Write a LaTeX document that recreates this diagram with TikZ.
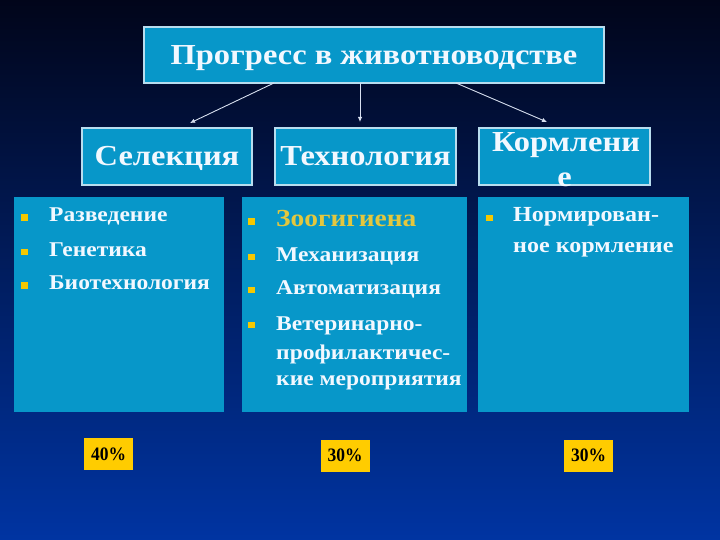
\documentclass[tikz,border=0pt]{standalone}
\usepackage{fontspec}
\setmainfont{Liberation Serif}
\newfontfamily\wf[FakeStretch=1.12]{Liberation Serif}
\newfontfamily\nf[FakeStretch=0.92]{Liberation Serif}
\usetikzlibrary{arrows.meta}
\definecolor{bgtop}{HTML}{01051A}
\definecolor{bgmid}{HTML}{082374}
\definecolor{bgbot}{HTML}{0034A2}
\definecolor{boxfill}{HTML}{0797C9}
\definecolor{boxline}{HTML}{B8DDEE}
\definecolor{txt}{HTML}{F2F8FF}
\definecolor{gold}{HTML}{E3C73E}
\definecolor{bul}{HTML}{F5C800}
\definecolor{pfill}{HTML}{FFCC00}
\definecolor{arrc}{HTML}{D8E0F0}
\tikzset{
  hbox/.style={draw=boxline, line width=1.1pt, fill=boxfill, inner sep=0pt},
  bigbox/.style={fill=boxfill, inner sep=0pt},
  htext/.style={anchor=base, text=txt, inner sep=0pt, font=\wf\bfseries\fontsize{29}{30}\selectfont},
  ltext/.style={anchor=base west, text=txt, inner sep=0pt, font=\wf\bfseries\fontsize{21}{22}\selectfont},
  pbox/.style={fill=pfill, inner sep=0pt, minimum width=49pt, minimum height=32pt, text=black, font=\nf\bfseries\fontsize{19}{20}\selectfont},
  arr/.style={draw=arrc, line width=0.9pt, -{Latex[length=5pt,width=4.5pt]}},
  bulsq/.style={fill=bul}
}
\begin{document}
\begin{tikzpicture}[x=1pt,y=-1pt]
\useasboundingbox (0,0) rectangle (720,540);
\shade[top color=bgtop, middle color=bgmid, bottom color=bgbot] (0,0) rectangle (720,540);
% top box
\node[hbox, minimum width=460pt, minimum height=56pt] (top) at (374,55) {};
\node[htext] (ttl) at (374,65) {Прогресс в животноводстве};
% row boxes
\node[hbox, minimum width=170pt, minimum height=57pt] (sel) at (167,156.5) {};
\node[hbox, minimum width=181pt, minimum height=57pt] (tech) at (365.5,156.5) {};
\node[hbox, minimum width=171pt, minimum height=57pt] (korm) at (564.5,156.5) {};
\node[htext] (selt) at (167,166) {Селекция};
\node[htext] (techt) at (365.5,166) {Технология};
\node[htext] (kormt1) at (566,152) {Кормлени};
\node[htext] (kormt2) at (564.5,187) {е};
% arrows
\coordinate (a1s) at (274,83);
\coordinate (a1e) at (190,123);
\coordinate (a2s) at (360,83);
\coordinate (a2e) at (360,122);
\coordinate (a3s) at (456,83);
\coordinate (a3e) at (547,122);
\draw[arr] (a1s) -- (a1e);
\draw[arr] (a2s) -- (a2e);
\draw[arr] (a3s) -- (a3e);
% big boxes
\node[bigbox, minimum width=210pt, minimum height=215pt] (b1) at (119,304.5) {};
\node[bigbox, minimum width=225pt, minimum height=215pt] (b2) at (354.5,304.5) {};
\node[bigbox, minimum width=211pt, minimum height=215pt] (b3) at (583.5,304.5) {};
% box 1 list
\fill[bulsq] (21,214.5) rectangle (27.5,221);
\fill[bulsq] (21,248.5) rectangle (27.5,255);
\fill[bulsq] (21,282) rectangle (27.5,288.5);
\node[ltext] (l11) at (49,222) {Разведение};
\node[ltext] (l12) at (49,256) {Генетика};
\node[ltext] (l13) at (49,289) {Биотехнология};
% box 2 list
\fill[bulsq] (248,218.5) rectangle (254.5,225);
\fill[bulsq] (248,253.5) rectangle (254.5,260);
\fill[bulsq] (248,286.5) rectangle (254.5,293);
\fill[bulsq] (248,321.5) rectangle (254.5,328);
\node[ltext, text=gold, font=\wf\bfseries\fontsize{24.5}{25}\selectfont] (l21) at (276,226) {Зоогигиена};
\node[ltext] (l22) at (276,261) {Механизация};
\node[ltext] (l23) at (276,294) {Автоматизация};
\node[ltext] (l24) at (276,330) {Ветеринарно-};
\node[ltext] (l25) at (276,359) {профилактичес-};
\node[ltext] (l26) at (276,385) {кие мероприятия};
% box 3 list
\fill[bulsq] (486,215) rectangle (492.5,221.5);
\node[ltext, font=\wf\bfseries\fontsize{21.5}{23}\selectfont] (l31) at (513,222) {Нормирован-};
\node[ltext, font=\wf\bfseries\fontsize{21.5}{23}\selectfont] (l32) at (513,252) {ное кормление};
% percentages
\node[pbox] (p1) at (108.5,454) {40\%};
\node[pbox] (p2) at (345,455.5) {30\%};
\node[pbox] (p3) at (588.5,455.5) {30\%};
\end{tikzpicture}
\end{document}
